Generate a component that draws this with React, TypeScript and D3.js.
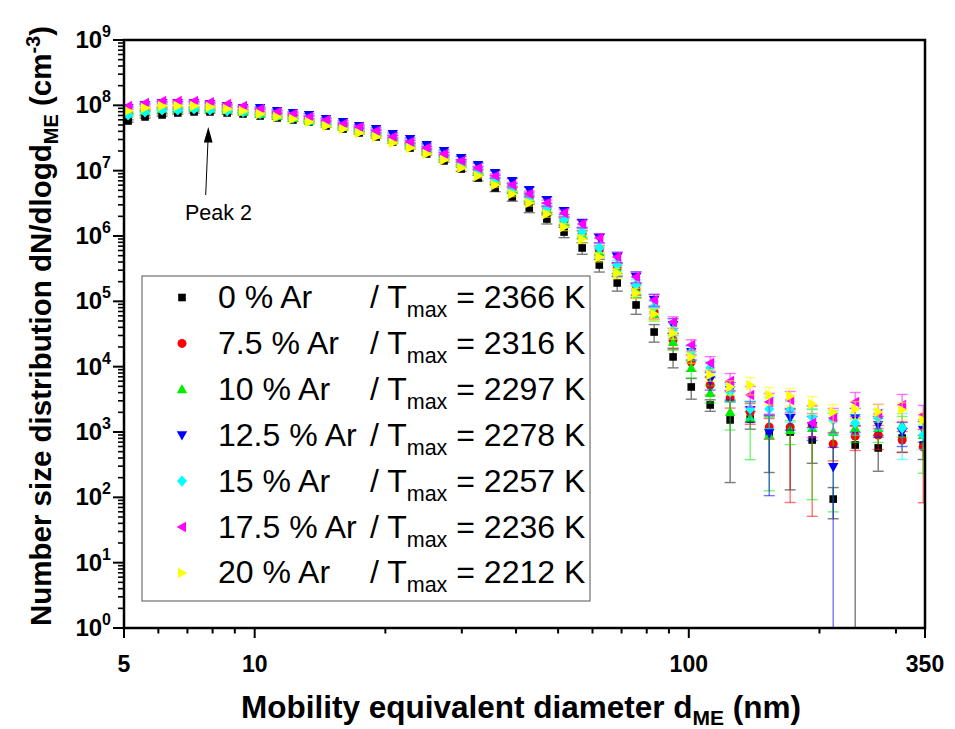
import React from 'react';
import * as d3 from 'd3';

// Mobility equivalent diameter (nm)
const diameters = [5.11, 5.59, 6.12, 6.65, 7.25, 7.89, 8.64, 9.40, 10.29, 11.26, 12.25, 13.34, 14.60, 15.98, 17.40, 19.04, 20.8, 22.8, 24.9, 27.3, 29.9, 32.7, 35.8, 39.2, 42.9, 47.1, 51.6, 56.8, 62.2, 68.4, 75.6, 83.2, 92.0, 101.3, 112.0, 124.5, 138.5, 153.2, 171.2, 192.4, 215.1, 241.7, 273.1, 310.1, 346.7];

const arPercent = ['0', '7.5', '10', '12.5', '15', '17.5', '20'];
const tMax = ['2366', '2316', '2297', '2278', '2257', '2236', '2212'];

// dN/dlogd values per series
const ar0 = [5.76e7, 6.64e7, 7.12e7, 7.64e7, 7.92e7, 7.92e7, 7.64e7, 7.38e7, 6.87e7, 6.41e7, 5.97e7, 5.56e7, 4.83e7, 4.34e7, 3.78e7, 3.28e7, 2.75e7, 2.22e7, 1.80e7, 1.41e7, 1.06e7, 7.73e6, 5.43e6, 3.96e6, 2.68e6, 1.82e6, 1.15e6, 6.56e5, 3.60e5, 1.91e5, 8.80e4, 3.39e4, 1.41e4, 4.89e3, 2.59e3, 1.53e3, 1.58e3, 1.0e3, 1.0e3, 754, 94, 632, 570, 810, 632];
const ar75 = [7.64e7, 8.49e7, 9.09e7, 9.09e7, 9.09e7, 9.09e7, 8.80e7, 8.21e7, 7.64e7, 7.12e7, 6.64e7, 5.97e7, 5.37e7, 4.83e7, 4.19e7, 3.64e7, 3.05e7, 2.56e7, 2.07e7, 1.68e7, 1.31e7, 9.90e6, 7.20e6, 5.25e6, 3.82e6, 2.59e6, 1.70e6, 1.07e6, 6.11e5, 3.24e5, 1.54e5, 6.87e4, 2.56e4, 1.18e4, 5.25e3, 3.32e3, 2.02e3, 1.19e3, 1.19e3, 1.28e3, 656, 870, 898, 754, 590];
const ar10 = [7.38e7, 8.21e7, 8.80e7, 8.80e7, 9.09e7, 8.80e7, 8.49e7, 7.92e7, 7.38e7, 6.87e7, 6.41e7, 5.76e7, 5.18e7, 4.66e7, 4.05e7, 3.51e7, 2.95e7, 2.47e7, 2.00e7, 1.62e7, 1.26e7, 9.55e6, 6.96e6, 5.06e6, 3.69e6, 2.50e6, 1.64e6, 1.04e6, 5.63e5, 3.02e5, 1.44e5, 6.41e4, 2.38e4, 9.55e3, 3.96e3, 2.02e3, 1.64e3, 898, 1.07e3, 1.15e3, 1.0e3, 1.15e3, 1.15e3, 1.28e3, 898];
const ar125 = [9.09e7, 1.01e8, 1.09e8, 1.09e8, 1.09e8, 1.05e8, 9.78e7, 9.09e7, 9.09e7, 8.21e7, 7.64e7, 7.12e7, 6.18e7, 5.56e7, 4.83e7, 4.34e7, 3.64e7, 3.05e7, 2.47e7, 2.00e7, 1.56e7, 1.22e7, 9.22e6, 6.96e6, 5.06e6, 3.56e6, 2.41e6, 1.58e6, 9.33e5, 4.77e5, 2.36e5, 1.05e5, 4.34e4, 1.68e4, 6.26e3, 4.40e3, 2.17e3, 965, 1.64e3, 1.24e3, 291, 1.64e3, 1.28e3, 1.0e3, 1.07e3];
const ar15 = [7.12e7, 7.92e7, 8.49e7, 8.49e7, 8.80e7, 8.49e7, 8.21e7, 7.92e7, 7.38e7, 6.87e7, 6.41e7, 5.76e7, 5.18e7, 4.66e7, 4.19e7, 3.64e7, 3.05e7, 2.56e7, 2.07e7, 1.68e7, 1.31e7, 9.90e6, 7.46e6, 5.43e6, 3.82e6, 2.68e6, 1.76e6, 1.15e6, 6.56e5, 3.60e5, 1.78e5, 8.21e4, 3.64e4, 1.68e4, 9.55e3, 4.10e3, 2.25e3, 2.25e3, 2.17e3, 1.70e3, 1.53e3, 1.37e3, 1.64e3, 1.15e3, 898];
const ar175 = [9.78e7, 1.09e8, 1.17e8, 1.17e8, 1.17e8, 1.12e8, 1.05e8, 9.78e7, 8.80e7, 7.92e7, 7.38e7, 6.64e7, 5.97e7, 5.18e7, 4.66e7, 4.05e7, 3.28e7, 2.75e7, 2.22e7, 1.80e7, 1.41e7, 1.10e7, 8.30e6, 6.04e6, 4.40e6, 3.20e6, 2.25e6, 1.53e6, 9.33e5, 4.77e5, 2.36e5, 1.05e5, 4.83e4, 2.15e4, 1.14e4, 6.04e3, 3.69e3, 2.88e3, 3.09e3, 1.37e3, 1.64e3, 2.88e3, 1.89e3, 2.59e3, 1.82e3];
const ar20 = [8.21e7, 9.09e7, 9.78e7, 9.78e7, 9.78e7, 9.42e7, 8.80e7, 8.21e7, 7.38e7, 6.64e7, 6.18e7, 5.56e7, 4.83e7, 4.34e7, 3.78e7, 3.28e7, 2.65e7, 2.22e7, 1.80e7, 1.46e7, 1.10e7, 8.30e6, 6.04e6, 4.40e6, 3.20e6, 2.17e6, 1.37e6, 9.00e5, 4.77e5, 2.71e5, 1.34e5, 6.41e4, 3.28e4, 1.41e4, 7.46e3, 4.89e3, 5.25e3, 3.69e3, 3.56e3, 2.68e3, 2.02e3, 2.25e3, 2.02e3, 2.17e3, 1.53e3];

// relative standard deviations per series
const err0 = [0.04, 0.04, 0.04, 0.04, 0.04, 0.04, 0.04, 0.04, 0.04, 0.04, 0.04, 0.04, 0.04, 0.04, 0.04, 0.04, 0.04, 0.04, 0.04, 0.04, 0.08, 0.1, 0.12, 0.14, 0.15, 0.16, 0.18, 0.2, 0.22, 0.25, 0.28, 0.3, 0.32, 0.35, 0.2, 0.89, 0.3, 0.76, 0.87, 0.56, 0.5, 1.0, 0.56, 0.4, 0.4];
const err75 = [0.04, 0.04, 0.04, 0.04, 0.04, 0.04, 0.04, 0.04, 0.04, 0.04, 0.04, 0.04, 0.04, 0.04, 0.04, 0.04, 0.04, 0.04, 0.04, 0.04, 0.06, 0.07, 0.08, 0.09, 0.1, 0.11, 0.12, 0.14, 0.16, 0.18, 0.2, 0.22, 0.25, 0.28, 0.3, 0.3, 0.35, 0.35, 0.93, 0.96, 0.45, 0.4, 0.4, 0.35, 0.86];
const err10 = [0.04, 0.04, 0.04, 0.04, 0.04, 0.04, 0.04, 0.04, 0.04, 0.04, 0.04, 0.04, 0.04, 0.04, 0.04, 0.04, 0.04, 0.04, 0.04, 0.04, 0.06, 0.07, 0.08, 0.09, 0.1, 0.11, 0.12, 0.14, 0.16, 0.18, 0.2, 0.22, 0.25, 0.3, 0.3, 0.47, 0.77, 0.86, 0.4, 0.92, 0.94, 0.4, 0.4, 0.35, 0.74];
const err125 = [0.04, 0.04, 0.04, 0.04, 0.04, 0.04, 0.04, 0.04, 0.04, 0.04, 0.04, 0.04, 0.04, 0.04, 0.04, 0.04, 0.04, 0.04, 0.04, 0.04, 0.06, 0.07, 0.08, 0.09, 0.1, 0.11, 0.12, 0.14, 0.16, 0.18, 0.2, 0.22, 0.25, 0.25, 0.3, 0.3, 0.35, 0.89, 0.35, 0.4, 1.0, 0.4, 0.35, 0.4, 0.35];
const err15 = [0.04, 0.04, 0.04, 0.04, 0.04, 0.04, 0.04, 0.04, 0.04, 0.04, 0.04, 0.04, 0.04, 0.04, 0.04, 0.04, 0.04, 0.04, 0.04, 0.04, 0.06, 0.07, 0.08, 0.09, 0.1, 0.11, 0.12, 0.14, 0.16, 0.18, 0.2, 0.22, 0.25, 0.25, 0.25, 0.3, 0.3, 0.5, 0.35, 0.35, 0.4, 0.35, 0.35, 0.67, 0.4];
const err175 = [0.04, 0.04, 0.04, 0.04, 0.04, 0.04, 0.04, 0.04, 0.04, 0.04, 0.04, 0.04, 0.04, 0.04, 0.04, 0.04, 0.04, 0.04, 0.04, 0.04, 0.06, 0.07, 0.08, 0.09, 0.1, 0.11, 0.12, 0.14, 0.16, 0.18, 0.18, 0.2, 0.2, 0.2, 0.25, 0.3, 0.35, 0.35, 0.35, 0.4, 0.4, 0.4, 0.4, 0.45, 0.4];
const err20 = [0.04, 0.04, 0.04, 0.04, 0.04, 0.04, 0.04, 0.04, 0.04, 0.04, 0.04, 0.04, 0.04, 0.04, 0.04, 0.04, 0.04, 0.04, 0.04, 0.04, 0.06, 0.07, 0.08, 0.09, 0.1, 0.11, 0.12, 0.14, 0.16, 0.18, 0.18, 0.2, 0.2, 0.2, 0.2, 0.25, 0.3, 0.3, 0.3, 0.3, 0.3, 0.3, 0.3, 0.3, 0.3];

const seriesValues = [ar0, ar75, ar10, ar125, ar15, ar175, ar20];
const seriesErr = [err0, err75, err10, err125, err15, err175, err20];
const colors = ['#000000', '#ff0000', '#00ee00', '#0000ff', '#00ffff', '#ff00ff', '#ffff00'];
const shapes = ['square', 'circle', 'up', 'down', 'diamond', 'left', 'right'];

const xMajor = [5, 10, 100, 350];
const xMinor = [6, 7, 8, 9, 20, 30, 40, 50, 60, 70, 80, 90, 200, 300];
const yExponents = [0, 1, 2, 3, 4, 5, 6, 7, 8, 9];

const FONT = "'Liberation Sans', Arial, Helvetica, sans-serif";

function Marker({ shape, cx, cy, color }: { shape: string; cx: number; cy: number; color: string }) {
  switch (shape) {
    case 'square':
      return <rect x={cx - 3.8} y={cy - 3.8} width={7.6} height={7.6} fill={color} />;
    case 'circle':
      return <circle cx={cx} cy={cy} r={4.5} fill={color} />;
    case 'up':
      return <path d={`M${cx},${cy - 5.4}L${cx + 5.2},${cy + 4}L${cx - 5.2},${cy + 4}Z`} fill={color} />;
    case 'down':
      return <path d={`M${cx},${cy + 5.4}L${cx + 5.2},${cy - 4}L${cx - 5.2},${cy - 4}Z`} fill={color} />;
    case 'diamond':
      return <path d={`M${cx},${cy - 5.6}L${cx + 5},${cy}L${cx},${cy + 5.6}L${cx - 5},${cy}Z`} fill={color} />;
    case 'left':
      return <path d={`M${cx - 5.4},${cy}L${cx + 4},${cy - 5.2}L${cx + 4},${cy + 5.2}Z`} fill={color} />;
    default:
      return <path d={`M${cx + 5.4},${cy}L${cx - 4},${cy - 5.2}L${cx - 4},${cy + 5.2}Z`} fill={color} />;
  }
}

export default function App() {
  const W = 955;
  const H = 729;
  const left = 124, right = 925, top = 40, bottom = 628;
  const x = d3.scaleLog().domain([5, 350]).range([left, right]);
  const y = d3.scaleLog().domain([1, 1e9]).range([bottom, top]);

  const yMinor: number[] = [];
  for (let k = 0; k < 9; k++) for (let m = 2; m <= 9; m++) yMinor.push(m * Math.pow(10, k));

  const capW = 5.5;

  return (
    <svg width={W} height={H} style={{ position: 'absolute', left: 0, top: 0, background: '#fff' }} fontFamily={FONT}>
      <defs>
        <clipPath id="plotClip">
          <rect x={left} y={top} width={right - left} height={bottom - top} />
        </clipPath>
      </defs>
      <rect x={0} y={0} width={W} height={H} fill="#fff" />

      {/* data */}
      <g clipPath="url(#plotClip)">
        {seriesValues.map((vals, si) => (
          <g key={si}>
            {vals.map((v, i) => {
              const e = seriesErr[si][i] * v;
              const cx = x(diameters[i]);
              const yTop = y(v + e);
              const lowVal = v - e;
              const yBot = lowVal > 1e-3 ? y(lowVal) : bottom + 5;
              return (
                <g key={i} stroke={colors[si] === '#000000' ? '#7a7a7a' : colors[si]} strokeOpacity={colors[si] === '#000000' ? 1 : 0.55} strokeWidth={1.4}>
                  <line x1={cx} x2={cx} y1={yTop} y2={yBot} />
                  <line x1={cx - capW} x2={cx + capW} y1={yTop} y2={yTop} />
                  {lowVal > 1e-3 && <line x1={cx - capW} x2={cx + capW} y1={yBot} y2={yBot} />}
                </g>
              );
            })}
            {vals.map((v, i) => (
              <Marker key={'m' + i} shape={shapes[si]} cx={x(diameters[i])} cy={y(v)} color={colors[si]} />
            ))}
          </g>
        ))}
      </g>

      {/* frame */}
      <rect x={left} y={top} width={right - left} height={bottom - top} fill="none" stroke="#000" strokeWidth={2.5} />

      {/* x ticks */}
      {xMajor.map((t) => (
        <g key={'xM' + t}>
          <line x1={x(t)} x2={x(t)} y1={bottom} y2={bottom + 10} stroke="#000" strokeWidth={2} />
          <text x={x(t)} y={672} textAnchor="middle" fontSize={23} fontWeight="bold">{t}</text>
        </g>
      ))}
      {xMinor.map((t) => (
        <line key={'xm' + t} x1={x(t)} x2={x(t)} y1={bottom} y2={bottom + 5.5} stroke="#000" strokeWidth={2} />
      ))}

      {/* y ticks */}
      {yExponents.map((k) => {
        const v = Math.pow(10, k);
        return (
          <g key={'yM' + k}>
            <line x1={left - 11} x2={left} y1={y(v)} y2={y(v)} stroke="#000" strokeWidth={2} />
            <text x={111} y={y(v) + 8} textAnchor="end" fontWeight="bold">
              <tspan fontSize={24}>10</tspan>
              <tspan fontSize={16} dy={-11}>{k}</tspan>
            </text>
          </g>
        );
      })}
      {yMinor.map((v, i) => (
        <line key={'ym' + i} x1={left - 6} x2={left} y1={y(v)} y2={y(v)} stroke="#000" strokeWidth={1.6} />
      ))}

      {/* axis titles */}
      <text x={521} y={718} textAnchor="middle" fontSize={31.5} fontWeight="bold">
        Mobility equivalent diameter d<tspan dy={7} fontSize={21}>ME</tspan><tspan dy={-7}> (nm)</tspan>
      </text>
      <text transform="translate(51,326) rotate(-90)" textAnchor="middle" fontSize={29.5} fontWeight="bold">
        Number size distribution dN/dlogd<tspan dy={7} fontSize={20}>ME</tspan><tspan dy={-7}> (cm</tspan><tspan dy={-11} fontSize={20}>-3</tspan><tspan dy={11}>)</tspan>
      </text>

      {/* annotation */}
      <line x1={205.7} y1={195} x2={208} y2={140} stroke="#000" strokeWidth={1} />
      <path d="M208.3,127 L212.6,142.5 L203.8,142.5 Z" fill="#000" />
      <text x={185} y={219.5} fontSize={21.5}>Peak 2</text>

      {/* legend */}
      <rect x={142} y={276} width={448} height={325} fill="#fff" stroke="#555" strokeWidth={1} />
      {arPercent.map((p, i) => {
        const base = 308 + 45.9 * i;
        return (
          <g key={'lg' + i}>
            <Marker shape={shapes[i]} cx={182} cy={base - 10.5} color={colors[i]} />
            <text x={218} y={base} fontSize={32}>{p} % Ar</text>
            <text x={370} y={base} fontSize={32}>
              / T<tspan dy={9} fontSize={21.5}>max</tspan><tspan dy={-9}> = {tMax[i]} K</tspan>
            </text>
          </g>
        );
      })}
    </svg>
  );
}
